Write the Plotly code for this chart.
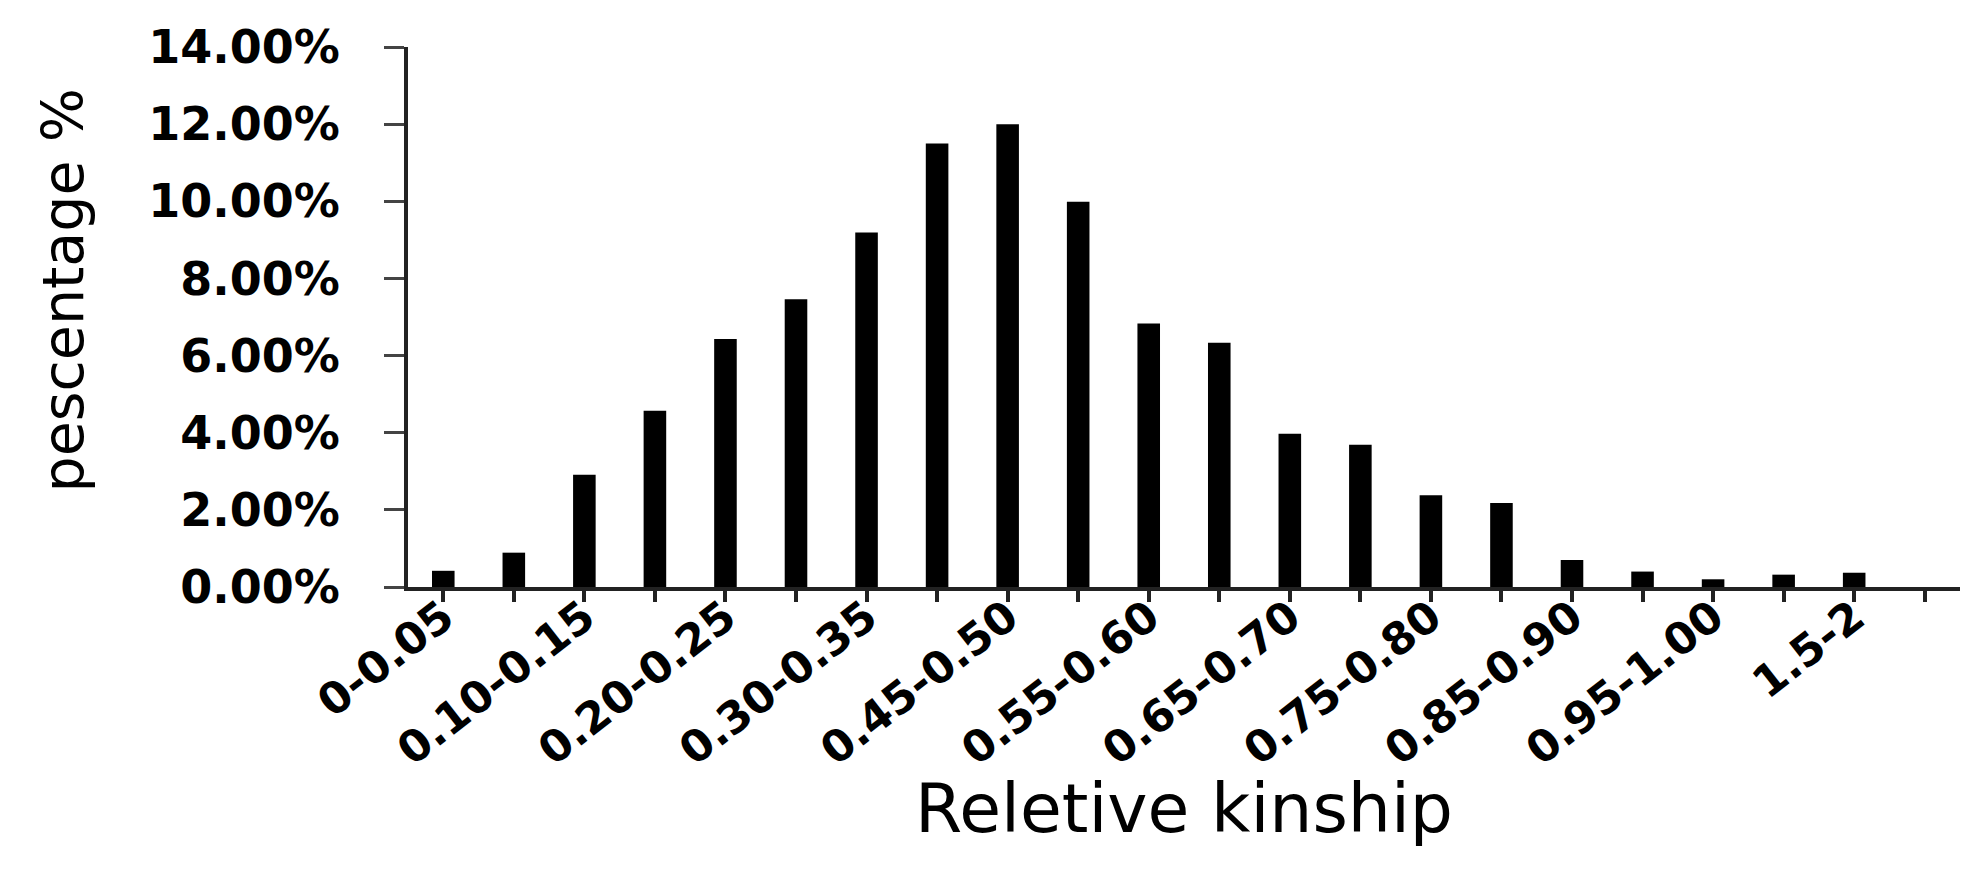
import plotly.graph_objs as go

# kinship classes (22 slots, last one empty), only every other one is labelled
classes = ['0-0.05', '0.05-0.10', '0.10-0.15', '0.15-0.20', '0.20-0.25', '0.25-0.30',
           '0.30-0.35', '0.35-0.45', '0.45-0.50', '0.50-0.55', '0.55-0.60', '0.60-0.65',
           '0.65-0.70', '0.70-0.75', '0.75-0.80', '0.80-0.85', '0.85-0.90', '0.90-0.95',
           '0.95-1.00', '1.00-1.5', '1.5-2', '>2']
percent = [0.42, 0.89, 2.91, 4.57, 6.43, 7.46, 9.19, 11.5, 12.0, 9.99, 6.83, 6.33,
           3.97, 3.69, 2.38, 2.18, 0.70, 0.40, 0.20, 0.32, 0.37, None]
tick_text = [c if i % 2 == 0 else '' for i, c in enumerate(classes)]
y_ticks = [0, 2, 4, 6, 8, 10, 12, 14]
y_text = ['%.2f%%' % v for v in y_ticks]


def kinship_chart():
    fig = go.Figure()
    fig.add_trace(go.Bar(x=classes, y=percent, marker=dict(color='black', line=dict(width=0))))

    fig.update_layout(
        width=1982, height=877,
        margin=dict(l=400, r=30, t=39, b=298),
        plot_bgcolor='white', paper_bgcolor='white',
        bargap=0.68, showlegend=False,
        font=dict(family='DejaVu Sans', color='black'),
    )
    fig.update_xaxes(
        type='category', range=[-0.5, 21.5],
        tickvals=classes, ticktext=tick_text, tickangle=-38,
        tickfont=dict(family='DejaVu Sans', size=44, weight='bold'),
        ticks='outside', ticklen=11, tickwidth=4, tickcolor='#222',
        showline=True, linecolor='#222', linewidth=4, showgrid=False,
        ticklabelstandoff=-28,
    )
    fig.update_yaxes(
        range=[0, 14], tickvals=y_ticks, ticktext=y_text,
        tickfont=dict(family='DejaVu Sans', size=46, weight='bold'),
        ticks='outside', ticklen=20, tickwidth=3, tickcolor='#444',
        showline=True, linecolor='#222', linewidth=4, showgrid=False, zeroline=False,
        ticklabelstandoff=35,
    )
    # axis titles placed as annotations so they sit where the original has them
    fig.add_annotation(text='Reletive kinship', xref='paper', yref='paper', x=0.5, y=-0.41,
                       xanchor='center', yanchor='middle', showarrow=False,
                       font=dict(family='DejaVu Sans', size=68))
    fig.add_annotation(text='pescentage %', xref='paper', yref='paper', x=-0.222, y=0.55,
                       xanchor='center', yanchor='middle', textangle=-90, showarrow=False,
                       font=dict(family='DejaVu Sans', size=57))
    fig.write_html('out.html')


if __name__ == '__main__':
    kinship_chart()
